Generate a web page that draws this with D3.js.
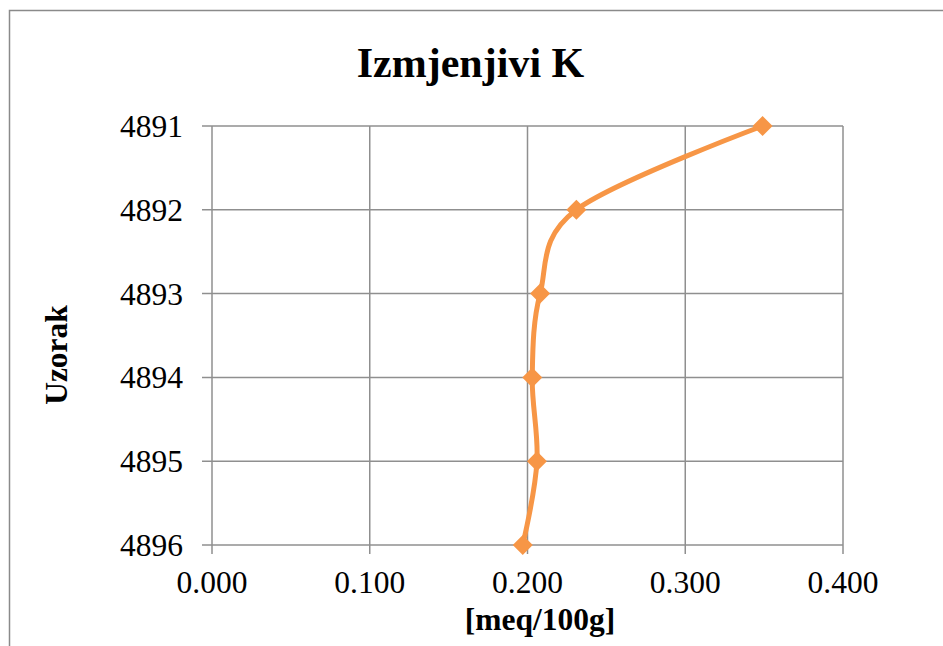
<!DOCTYPE html>
<html><head><meta charset="utf-8">
<script src="https://cdn.jsdelivr.net/npm/d3@7"></script>
<style>html,body{margin:0;padding:0;background:#fff;overflow:hidden}</style>
</head><body>
<svg id="c" width="943" height="646"></svg>
<script>
const categories = ["4891","4892","4893","4894","4895","4896"];
const values = [0.349, 0.231, 0.208, 0.203, 0.206, 0.197];
const xTicks = [0, 0.1, 0.2, 0.3, 0.4];
const title = "Izmjenjivi K";
const xTitle = "[meq/100g]";
const yTitle = "Uzorak";

const svg = d3.select("#c");
const font = "'Liberation Serif','Times New Roman',serif";
const grid = "#8f8f8f";
const L = 212, R = 843, T = 126, B = 545;

// outer chart border (cropped)
svg.append("path").attr("d", "M9.5,646 L9.5,10.5 L943,10.5")
  .attr("fill","none").attr("stroke","#8a8a8a").attr("stroke-width",1.5);

const x = d3.scaleLinear().domain([0,0.4]).range([L,R]);
const y = d3.scalePoint().domain(categories).range([T,B]);

// gridlines
svg.append("g").selectAll("line").data(xTicks).join("line")
  .attr("x1", d=>x(d)).attr("x2", d=>x(d)).attr("y1", T).attr("y2", B+9)
  .attr("stroke", grid).attr("stroke-width", 1.5);
svg.append("g").selectAll("line").data(categories).join("line")
  .attr("x1", L-10).attr("x2", R).attr("y1", d=>y(d)).attr("y2", d=>y(d))
  .attr("stroke", grid).attr("stroke-width", 1.5);

// tick labels
svg.append("g").selectAll("text").data(categories).join("text")
  .attr("x", 183).attr("y", d=>y(d)).attr("dy","0.35em")
  .attr("text-anchor","end").attr("font-family",font).attr("font-size",31.5)
  .text(d=>d);
svg.append("g").selectAll("text").data(xTicks).join("text")
  .attr("x", d=>x(d)).attr("y", 593)
  .attr("text-anchor","middle").attr("font-family",font).attr("font-size",31.5)
  .text(d=>d3.format(".3f")(d));

// titles
svg.append("text").attr("x",470.5).attr("y",77).attr("text-anchor","middle")
  .attr("font-family",font).attr("font-weight","bold").attr("font-size",42).text(title);
svg.append("text").attr("x",540).attr("y",630).attr("text-anchor","middle")
  .attr("font-family",font).attr("font-weight","bold").attr("font-size",31.5).text(xTitle);
svg.append("text").attr("transform","translate(67,355) rotate(-90)").attr("text-anchor","middle")
  .attr("font-family",font).attr("font-weight","bold").attr("font-size",31.5).text(yTitle);

// series
const data = categories.map((c,i)=>({c, v: values[i]}));
const line = d3.line().x(d=>x(d.v)).y(d=>y(d.c)).curve(d3.curveCatmullRom.alpha(0));
svg.append("path").datum(data).attr("d", line)
  .attr("fill","none").attr("stroke","#F79646").attr("stroke-width",5)
  .attr("stroke-linejoin","round").attr("stroke-linecap","round");
const s = 10;
svg.append("g").selectAll("path").data(data).join("path")
  .attr("d", d=>{const cx=x(d.v), cy=y(d.c); return `M${cx},${cy-s}L${cx+s},${cy}L${cx},${cy+s}L${cx-s},${cy}Z`;})
  .attr("fill","#F79646");
</script>
</body></html>
